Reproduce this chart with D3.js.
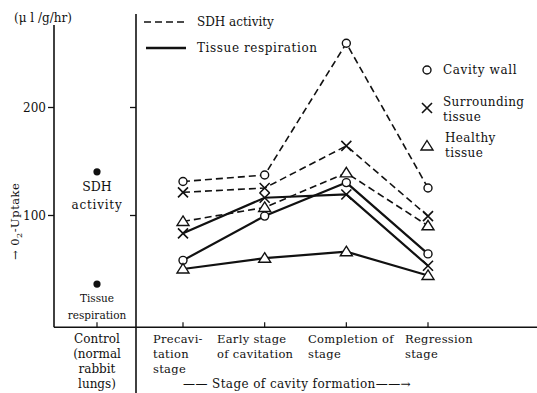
<!DOCTYPE html>
<html><head><meta charset="utf-8">
<script src="https://cdn.jsdelivr.net/npm/d3@7"></script>
<style>body{margin:0;background:#fff}svg{display:block}text{font-family:"DejaVu Serif","Liberation Serif",serif;fill:#111}</style>
</head><body><svg id="c" width="537" height="393"></svg>
<script>
const stages = ["Precavitation","Early","Completion","Regression"];
const stageLabels = [["Precavi-","tation","stage"],["Early stage","of cavitation"],["Completion of","stage"],["Regression","stage"]];
const tissues = ["Cavity wall","Surrounding tissue","Healthy tissue"];
const sdhCavity = [131, 137, 259, 125];
const sdhSurround = [121, 125, 164, 99];
const sdhHealthy = [94, 107, 139, 90];
const respCavity = [58, 99, 130, 64];
const respSurround = [83, 116, 119, 53];
const respHealthy = [50, 60, 66, 44];
const controlSDH = 140;
const controlResp = 36;
const yTicks = [100, 200];

const svg = d3.select("#c");
const y = d3.scaleLinear().domain([0, 200]).range([323, 107]);
const x = d3.scalePoint().domain(stages).range([183, 428]);
const ctrlX = 97;
const ink = "#111";

// frame lines
svg.append("line").attr("x1",54).attr("x2",54).attr("y1",25).attr("y2",y(-4)).attr("stroke",ink).attr("stroke-width",1.6);
svg.append("line").attr("x1",136).attr("x2",136).attr("y1",14).attr("y2",393).attr("stroke",ink).attr("stroke-width",1.6);
svg.append("line").attr("x1",54).attr("x2",537).attr("y1",y(-4)).attr("y2",y(-4)).attr("stroke",ink).attr("stroke-width",1.6);

// left axis
const axL = d3.axisLeft(y).tickValues(yTicks).tickSize(6).tickPadding(2);
const gL = svg.append("g").attr("transform","translate(54,0)").call(axL);
gL.select(".domain").remove();
gL.selectAll("line").attr("stroke",ink).attr("stroke-width",1.3);
gL.selectAll("text").attr("font-size",12).attr("font-family","DejaVu Serif").attr("fill",ink).attr("dy","0.35em");
const gR = svg.append("g").attr("transform","translate(136,0)").call(d3.axisLeft(y).tickValues(yTicks).tickSize(6).tickFormat(""));
gR.select(".domain").remove();
gR.selectAll("line").attr("stroke",ink).attr("stroke-width",1.3);

// bottom ticks
const bt = svg.append("g");
[ctrlX, ...stages.map(s=>x(s))].forEach(px=>{
  bt.append("line").attr("x1",px).attr("x2",px).attr("y1",y(-4)).attr("y2",y(-4)-5).attr("stroke",ink).attr("stroke-width",1.2);
});

// units & y label
svg.append("text").attr("x",14).attr("y",22).attr("font-size",12).text("(μ l /g/hr)");
svg.append("text").attr("transform","translate(19,260) rotate(-90)").attr("font-size",11.5).attr("letter-spacing",0.5)
  .html('→ 0<tspan font-size="8" dy="3">2</tspan><tspan dy="-3">-Uptake</tspan>');

// control points
svg.append("circle").attr("cx",ctrlX).attr("cy",y(controlSDH)).attr("r",3.6).attr("fill",ink);
svg.append("circle").attr("cx",ctrlX).attr("cy",y(controlResp)).attr("r",3.6).attr("fill",ink);
svg.append("text").attr("x",ctrlX).attr("y",y(controlSDH)+19).attr("text-anchor","middle").attr("font-size",12.5).text("SDH");
svg.append("text").attr("x",ctrlX).attr("y",y(controlSDH)+37).attr("text-anchor","middle").attr("font-size",12).attr("letter-spacing",0.8).text("activity");
svg.append("text").attr("x",ctrlX).attr("y",y(controlResp)+18).attr("text-anchor","middle").attr("font-size",10.5).text("Tissue");
svg.append("text").attr("x",ctrlX).attr("y",y(controlResp)+35).attr("text-anchor","middle").attr("font-size",10.5).text("respiration");

// category labels
const ctrlLines = ["Control","(normal","rabbit","lungs)"];
ctrlLines.forEach((t,i)=>svg.append("text").attr("x",ctrlX).attr("y",343+i*15).attr("text-anchor","middle").attr("font-size",12).text(t));
const labX = [153, 217, 308, 405];
stageLabels.forEach((lines,j)=>lines.forEach((t,i)=>svg.append("text").attr("x",labX[j]).attr("y",343+i*15).attr("font-size",11.5).attr("letter-spacing",0.3).text(t)));
svg.append("text").attr("x",183).attr("y",388).attr("font-size",12).attr("letter-spacing",0.4).text("—— Stage of cavity formation——→");

// series
const series = [
  {v:sdhCavity, dash:true, m:"o"},
  {v:sdhSurround, dash:true, m:"x"},
  {v:sdhHealthy, dash:true, m:"t"},
  {v:respCavity, dash:false, m:"o"},
  {v:respSurround, dash:false, m:"x"},
  {v:respHealthy, dash:false, m:"t"},
];
const line = d3.line().x((d,i)=>x(stages[i])).y(d=>y(d));
series.forEach(s=>{
  svg.append("path").attr("d",line(s.v)).attr("fill","none").attr("stroke",ink)
    .attr("stroke-width",s.dash?1.6:2.2).attr("stroke-dasharray",s.dash?"7,4":null);
});
function marker(g,m,cx,cy){
  if(m==="o") g.append("circle").attr("cx",cx).attr("cy",cy).attr("r",4).attr("fill","#fff").attr("stroke",ink).attr("stroke-width",1.4);
  else if(m==="x") g.append("path").attr("d",`M${cx-5},${cy-5}L${cx+5},${cy+5}M${cx-5},${cy+5}L${cx+5},${cy-5}`).attr("stroke",ink).attr("stroke-width",1.6).attr("fill","none");
  else g.append("path").attr("d",`M${cx},${cy-5.5}L${cx+6},${cy+4}L${cx-6},${cy+4}Z`).attr("fill","#fff").attr("stroke",ink).attr("stroke-width",1.4);
}
series.forEach(s=>s.v.forEach((d,i)=>marker(svg,s.m,x(stages[i]),y(d))));

// legends
svg.append("line").attr("x1",144).attr("x2",186).attr("y1",22).attr("y2",22).attr("stroke",ink).attr("stroke-width",1.6).attr("stroke-dasharray","7,4");
svg.append("text").attr("x",197).attr("y",26).attr("font-size",12).text("SDH activity");
svg.append("line").attr("x1",146).attr("x2",186).attr("y1",48).attr("y2",48).attr("stroke",ink).attr("stroke-width",2.6);
svg.append("text").attr("x",197).attr("y",52).attr("font-size",12).attr("letter-spacing",0.6).text("Tissue respiration");
const lg = svg.append("g");
marker(lg,"o",427,70);
svg.append("text").attr("x",443).attr("y",74).attr("font-size",12).attr("letter-spacing",0.6).text("Cavity wall");
marker(lg,"x",427,108);
svg.append("text").attr("x",443).attr("y",106).attr("font-size",12).attr("letter-spacing",0.4).text("Surrounding");
svg.append("text").attr("x",443).attr("y",121).attr("font-size",12).attr("letter-spacing",0.4).text("tissue");
marker(lg,"t",427,146);
svg.append("text").attr("x",445).attr("y",142).attr("font-size",12).attr("letter-spacing",0.4).text("Healthy");
svg.append("text").attr("x",445).attr("y",157).attr("font-size",12).attr("letter-spacing",0.4).text("tissue");
</script></body></html>
